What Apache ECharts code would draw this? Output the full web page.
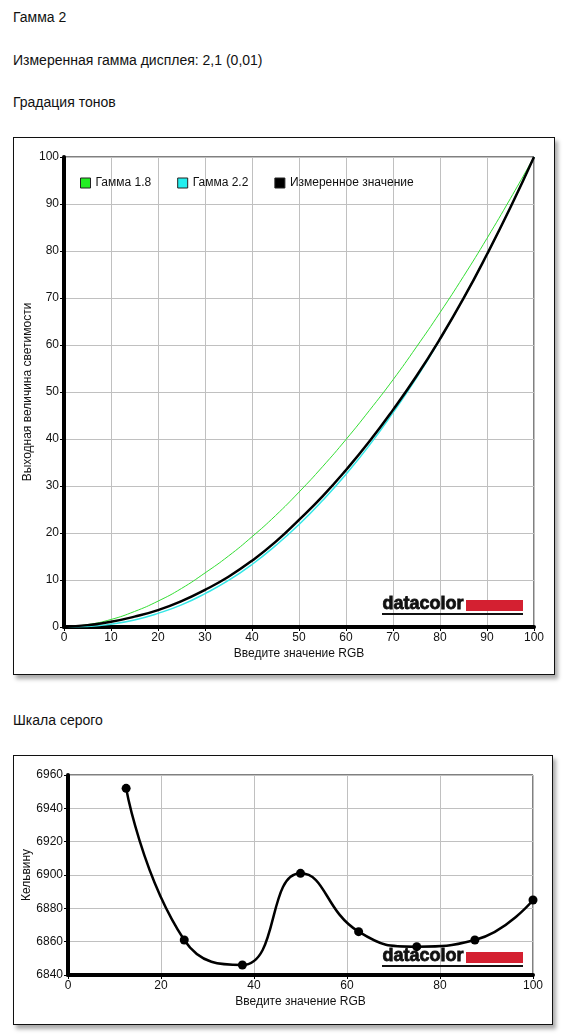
<!DOCTYPE html>
<html>
<head>
<meta charset="utf-8">
<script src="https://cdn.jsdelivr.net/npm/echarts@6/dist/echarts.min.js"></script>
<style>
  body { margin: 0; background: #fff; font-family: "Liberation Sans", Arial, sans-serif; }
  .txt { position: absolute; left: 13px; font-size: 14px; line-height: 16px; color: #111; }
  .box { position: absolute; border: 1px solid #111; background: #fff; box-shadow: 3px 4px 4px #aaa; }
</style>
</head>
<body>
<div class="txt" style="top:9px">Гамма 2</div>
<div class="txt" style="top:52px">Измеренная гамма дисплея: 2,1 (0,01)</div>
<div class="txt" style="top:94px">Градация тонов</div>
<div class="box" style="left:13px;top:137px;width:540px;height:536px">
  <div id="gamma" style="width:540px;height:536px"></div>
</div>
<div class="txt" style="top:712px">Шкала серого</div>
<div class="box" style="left:13px;top:755px;width:538px;height:268px">
  <div id="grey" style="width:538px;height:268px"></div>
</div>
<script>
// Градация тонов
var rgbSteps = [0, 5, 10, 15, 20, 25, 30, 35, 40, 45, 50, 55, 60, 65, 70, 75, 80, 85, 90, 95, 100];
var gamma18 = [0, 0.5, 1.6, 3.3, 5.5, 8.2, 11.5, 15.1, 19.2, 23.7, 28.7, 34.1, 39.9, 46.1, 52.6, 59.6, 66.9, 74.6, 82.7, 91.2, 100];
var gamma22 = [0, 0.1, 0.6, 1.5, 2.9, 4.7, 7.1, 9.9, 13.3, 17.3, 21.8, 26.9, 32.5, 38.7, 45.6, 53.0, 61.2, 69.9, 79.3, 89.3, 100];
var measured = [0, 0.4, 1.1, 2.2, 3.6, 5.5, 7.9, 10.7, 14.1, 18.1, 22.8, 27.8, 33.4, 39.5, 46.2, 53.4, 61.3, 69.9, 79.3, 89.3, 100];

// Шкала серого
var greyRgb = [12.5, 25, 37.5, 50, 62.5, 75, 87.5, 100];
var kelvin = [6952, 6861, 6846, 6901, 6866, 6857, 6861, 6885];

var FONT = '"Liberation Sans", Arial, sans-serif';

function pairs(xs, ys) {
  return xs.map(function (x, i) { return [x, ys[i]]; });
}

function logo(x, y) {
  return [
    { type: 'text', left: x, top: y - 5, z: 100,
      style: { text: 'datacolor', fill: '#111', stroke: '#111', lineWidth: 0.8,
        font: 'bold 18px "Liberation Sans", Arial, sans-serif' } },
    { type: 'rect', left: x + 84, top: y, z: 100,
      shape: { width: 57, height: 11 }, style: { fill: '#d42031' } },
    { type: 'rect', left: x, top: y + 13, z: 100,
      shape: { width: 141, height: 2 }, style: { fill: '#111' } }
  ];
}

function valueAxis(min, max, step, name, gap) {
  return {
    type: 'value', min: min, max: max, interval: step,
    name: name, nameLocation: 'middle', nameGap: gap, nameMoveOverlap: false,
    nameTextStyle: { color: '#111', fontSize: 12, fontFamily: FONT },
    axisLine: { show: true, lineStyle: { color: '#000', width: 4 } },
    axisTick: { show: true, length: 4, lineStyle: { color: '#000', width: 1 } },
    axisLabel: { color: '#111', fontSize: 12, fontFamily: FONT, margin: 5,
      formatter: function (v) { return String(v); } },
    splitLine: { show: true, lineStyle: { color: '#c0c0c0', width: 1 } }
  };
}

var gammaChart = echarts.init(document.getElementById('gamma'));
gammaChart.setOption({
  animation: false,
  grid: { left: 50, top: 19, width: 470, height: 470, show: true, borderColor: '#000', borderWidth: 1,
    containLabel: false, outerBoundsMode: 'none' },
  legend: {
    left: 61, top: 34, itemWidth: 10, itemHeight: 10, itemGap: 26, icon: 'rect',
    textStyle: { color: '#111', fontSize: 12, fontFamily: FONT },
    data: [
      { name: 'Гамма 1.8', itemStyle: { color: '#22ee22', borderColor: '#222', borderWidth: 1 } },
      { name: 'Гамма 2.2', itemStyle: { color: '#22eeee', borderColor: '#222', borderWidth: 1 } },
      { name: 'Измеренное значение', itemStyle: { color: '#000', borderColor: '#222', borderWidth: 1 } }
    ]
  },
  xAxis: valueAxis(0, 100, 10, 'Введите значение RGB', 21),
  yAxis: valueAxis(0, 100, 10, 'Выходная величина светимости', 30),
  graphic: logo(368, 462),
  series: [
    { name: 'Гамма 1.8', type: 'line', smooth: true, showSymbol: false,
      lineStyle: { color: '#33dd33', width: 1 }, itemStyle: { color: '#22ee22' },
      data: pairs(rgbSteps, gamma18) },
    { name: 'Гамма 2.2', type: 'line', smooth: true, showSymbol: false,
      lineStyle: { color: '#33e6e6', width: 1.5 }, itemStyle: { color: '#22eeee' },
      data: pairs(rgbSteps, gamma22) },
    { name: 'Измеренное значение', type: 'line', smooth: true, showSymbol: false,
      lineStyle: { color: '#000', width: 2.5 }, itemStyle: { color: '#000' },
      data: pairs(rgbSteps, measured) }
  ]
});

var greyChart = echarts.init(document.getElementById('grey'));
greyChart.setOption({
  animation: false,
  grid: { left: 54, top: 19, width: 465, height: 200, show: true, borderColor: '#000', borderWidth: 1,
    containLabel: false, outerBoundsMode: 'none' },
  xAxis: valueAxis(0, 100, 20, 'Введите значение RGB', 21),
  yAxis: valueAxis(6840, 6960, 20, 'Кельвину', 35),
  graphic: logo(368, 196),
  series: [
    { type: 'line', smooth: true, symbol: 'circle', symbolSize: 9,
      lineStyle: { color: '#000', width: 2.5 }, itemStyle: { color: '#000' },
      data: pairs(greyRgb, kelvin) }
  ]
});

window.onresize = function () { gammaChart.resize(); greyChart.resize(); };
</script>
</body>
</html>
